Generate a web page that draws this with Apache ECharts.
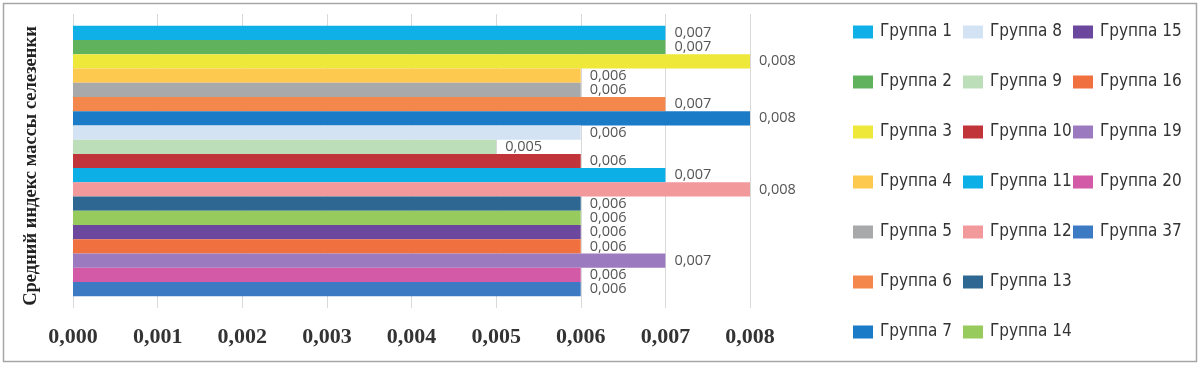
<!DOCTYPE html>
<html><head><meta charset="utf-8">
<script src="https://cdn.jsdelivr.net/npm/echarts@6/dist/echarts.min.js"></script>
<style>html,body{margin:0;padding:0;background:#fff}#c{width:1200px;height:366px}</style>
</head><body><div id="c"></div>
<script>
const groups = ['Группа 1','Группа 2','Группа 3','Группа 4','Группа 5','Группа 6','Группа 7','Группа 8','Группа 9','Группа 10','Группа 11','Группа 12','Группа 13','Группа 14','Группа 15','Группа 16','Группа 19','Группа 20','Группа 37'];
const values = [0.007,0.007,0.008,0.006,0.006,0.007,0.008,0.006,0.005,0.006,0.007,0.008,0.006,0.006,0.006,0.006,0.007,0.006,0.006];
const colors = ['#0fb0e8','#60b35c','#ede83a','#fdc94f','#a8a9aa','#f4874b','#1b7bc7','#d3e3f4','#bcdfba','#c1353a','#0cb0e6','#f2999c','#2e6892','#97cb5e','#6b489d','#f1703f','#9b7ac0','#d25aa6','#3d7ac4'];
const xTicks = [0,0.001,0.002,0.003,0.004,0.005,0.006,0.007,0.008];
const yTitle = 'Средний индекс массы селезенки';

const fmt = v => v.toFixed(3).replace('.', ',');
const chart = echarts.init(document.getElementById('c'), null, {renderer:'canvas'});
const legendCols = [groups.slice(0,7), groups.slice(7,14), groups.slice(14)];
const legendLeft = [853, 963, 1073];
chart.setOption({
  animation:false,
  color: colors,
  graphic:[{type:'rect', shape:{x:3.5,y:3.5,width:1193,height:358}, style:{fill:'none', stroke:'#a6a6a6', lineWidth:1.5}, silent:true}],
  grid:{left:73, right:450, top:14, bottom:58},
  xAxis:{type:'value', min:xTicks[0], max:xTicks[xTicks.length-1], interval:0.001,
    axisLine:{show:false}, axisTick:{show:false},
    splitLine:{show:true, lineStyle:{color:'#d9d9d9', width:1}},
    axisLabel:{formatter: v => fmt(v), margin:18, fontFamily:'Liberation Serif', fontWeight:'bold', fontSize:22, color:'#333'}},
  yAxis:{type:'category', data:[''], inverse:true,
    axisLine:{show:false}, axisTick:{show:false}, axisLabel:{show:false},
    name: yTitle, nameLocation:'middle', nameRotate:90, nameGap:32,
    nameTextStyle:{fontFamily:'Liberation Serif', fontWeight:'bold', fontSize:18.5, color:'#222', padding:[0,10,0,0]}},
  legend: legendCols.map((d,i)=>({orient:'vertical', left:legendLeft[i], top:22, padding:0, data:d,
    itemWidth:20, itemHeight:13, itemGap:30, icon:'rect',
    textStyle:{fontFamily:'"DejaVu Sans Condensed", sans-serif', fontSize:17, lineHeight:20, color:'#333', padding:[0,0,0,2]}})),
  series: groups.map((g,i)=>({type:'bar', name:g, data:[values[i]], barGap:'0%', barCategoryGap:'8%',
    label:{show:true, position:'right', distance:9, formatter: p => fmt(p.value), fontFamily:'Open Sans', fontSize:14.5, color:'#555'}}))
});
</script></body></html>
